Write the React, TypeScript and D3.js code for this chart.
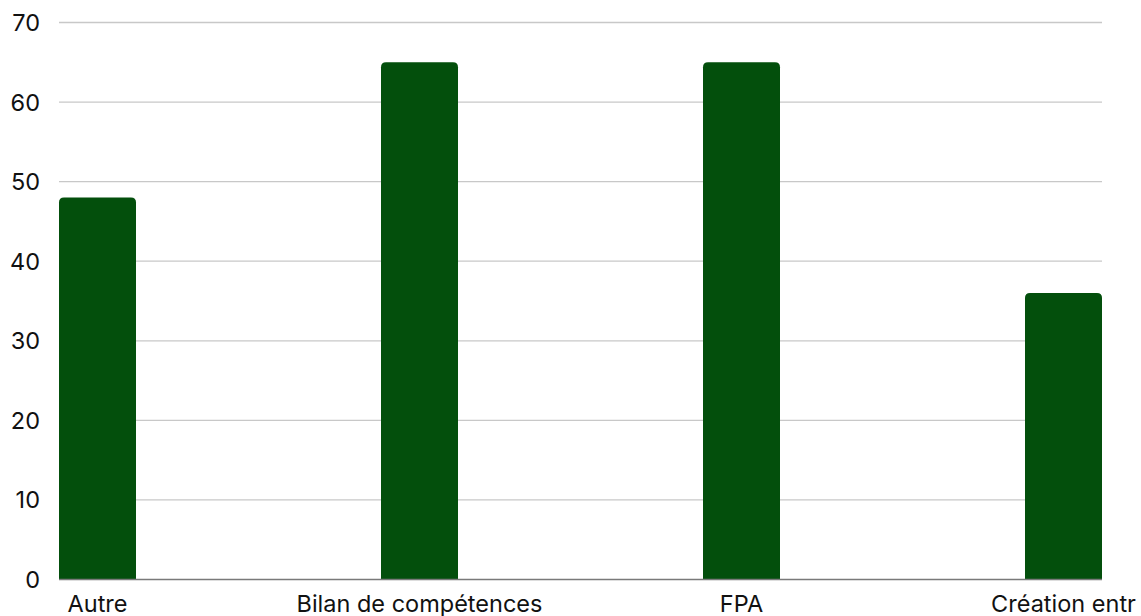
import React from "react";
import * as d3 from "d3";

const categories = ["Autre", "Bilan de compétences", "FPA", "Création entr"];
const values = [48, 65, 65, 36];
const yTicks = [0, 10, 20, 30, 40, 50, 60, 70];

const W = 1141;
const H = 616;
const left = 59;
const right = 1102;
const barW = 77;
const y0 = 579.5;
const yTop = 22.5;

function barPath(x: number, y: number, w: number, h: number, r: number) {
  const rr = Math.min(r, h, w / 2);
  return `M${x},${y + h}V${y + rr}Q${x},${y} ${x + rr},${y}H${x + w - rr}Q${x + w},${y} ${x + w},${y + rr}V${y + h}Z`;
}

export default function App() {
  const x = d3.scalePoint<string>().domain(categories).range([left + barW / 2, right - barW / 2]);
  const y = d3.scaleLinear().domain([0, 70]).range([y0, yTop]);
  const font = "Inter, 'Open Sans', sans-serif";
  return (
    <svg width={W} height={H} style={{ position: "absolute", left: 0, top: 0, background: "#fff" }}>
      {yTicks.map((t) => (
        <g key={t}>
          {t !== 0 && (
            <line x1={left} x2={right} y1={y(t)} y2={y(t)} stroke="#c8c8c8" strokeWidth={1.3} />
          )}
          <text x={40} y={y(t)} dy="0.36em" textAnchor="end" fontFamily={font} fontSize={23.5} fill="#111">
            {t}
          </text>
        </g>
      ))}
      {categories.map((c, i) => {
        const cx = x(c)!;
        const top = y(values[i]);
        return (
          <path key={c} d={barPath(cx - barW / 2, top, barW, y0 - top, 5)} fill="#034F0C" />
        );
      })}
      <line x1={left} x2={right} y1={y0} y2={y0} stroke="#7a7a7a" strokeWidth={1.3} />
      {categories.map((c) => (
        <text key={c} x={x(c)!} y={612} textAnchor="middle" fontFamily={font} fontSize={23.5} fill="#111">
          {c}
        </text>
      ))}
    </svg>
  );
}
